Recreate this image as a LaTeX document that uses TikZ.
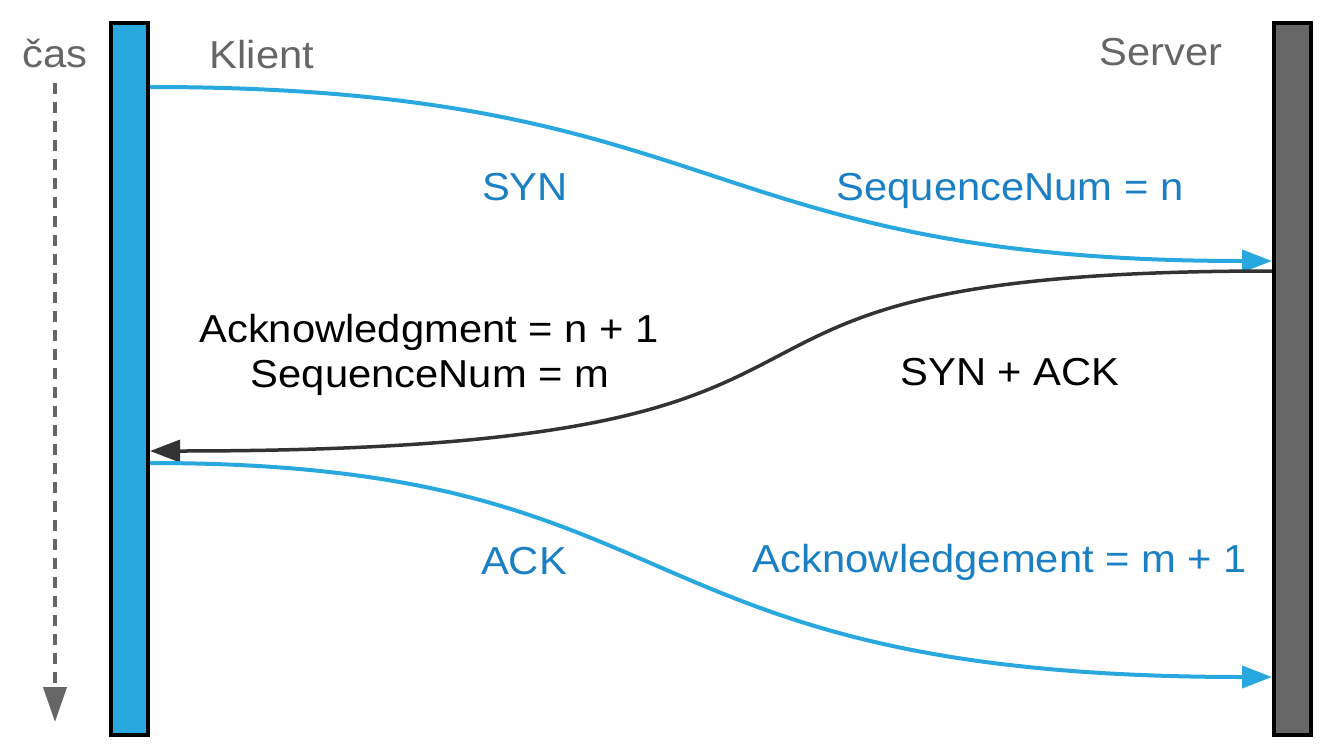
\documentclass[tikz,border=0pt]{standalone}
\usepackage{fontspec}
\setmainfont[FakeStretch=1.07]{Liberation Sans}
\usetikzlibrary{arrows.meta}
\definecolor{lineblue}{HTML}{29A8E0}
\definecolor{textblue}{HTML}{1B80C3}
\definecolor{greytxt}{HTML}{666666}
\definecolor{darkline}{HTML}{333333}
\begin{document}
\begin{tikzpicture}[x=1pt,y=-1pt,
  lbl/.style={font=\fontsize{39}{45}\selectfont, anchor=base, inner sep=0pt, outer sep=0pt},
  bluelbl/.style={lbl, text=textblue},
  greylbl/.style={lbl, text=greytxt},
  blacklbl/.style={lbl, text=black},
  bar/.style={draw=black, line width=4pt, minimum width=37pt, minimum height=712pt, inner sep=0pt, outer sep=0pt},
  bluemsg/.style={line width=4pt, draw=lineblue, -{Triangle[length=30pt,width=22pt,fill=lineblue]}},
  darkmsg/.style={line width=3.5pt, draw=darkline, -{Triangle[length=30pt,width=22pt,fill=darkline]}},
  timearrow/.style={line width=4pt, draw=greytxt, dash pattern=on 11pt off 8pt, -{Triangle[length=35pt,width=23pt,fill=greytxt]}}
]
\useasboundingbox (0,0) rectangle (1337,752);

% lifelines
\node[bar, fill=lineblue] (client) at (129.5,379) {};
\node[bar, fill=greytxt] (server) at (1292.5,379) {};

% titles
\node[greylbl] (cas) at (55,67) {čas};
\node[greylbl] (klient) at (262,68) {Klient};
\node[greylbl] (srv) at (1161,65) {Server};

% time arrow
\coordinate (tstart) at (55,83);
\coordinate (tend) at (55,722);
\draw[timearrow] (tstart) -- (tend);

% endpoints
\coordinate (synA) at (150,87);
\coordinate (synB) at (1272,261);
\coordinate (saA) at (1272,271);
\coordinate (saB) at (150,451);
\coordinate (ackA) at (150,463);
\coordinate (ackB) at (1272,677);

% messages
\draw[bluemsg] (synA) .. controls (728,87) and (694,261) .. (synB);
\draw[darkmsg] (saA) .. controls (582,271) and (984,451) .. (saB);
\draw[bluemsg] (ackA) .. controls (708,463) and (605,677) .. (ackB);

% labels
\node[bluelbl] (lsyn) at (525,200) {SYN};
\node[bluelbl] (lseqn) at (1010,200) {SequenceNum = n};
\node[blacklbl] (lackn) at (429,342) {Acknowledgment = n + 1};
\node[blacklbl] (lseqm) at (430,387) {SequenceNum = m};
\node[blacklbl] (lsynack) at (1010,385) {SYN + ACK};
\node[bluelbl] (lack) at (524,574) {ACK};
\node[bluelbl] (lackm) at (1000,572) {Acknowledgement = m + 1};
\end{tikzpicture}
\end{document}
